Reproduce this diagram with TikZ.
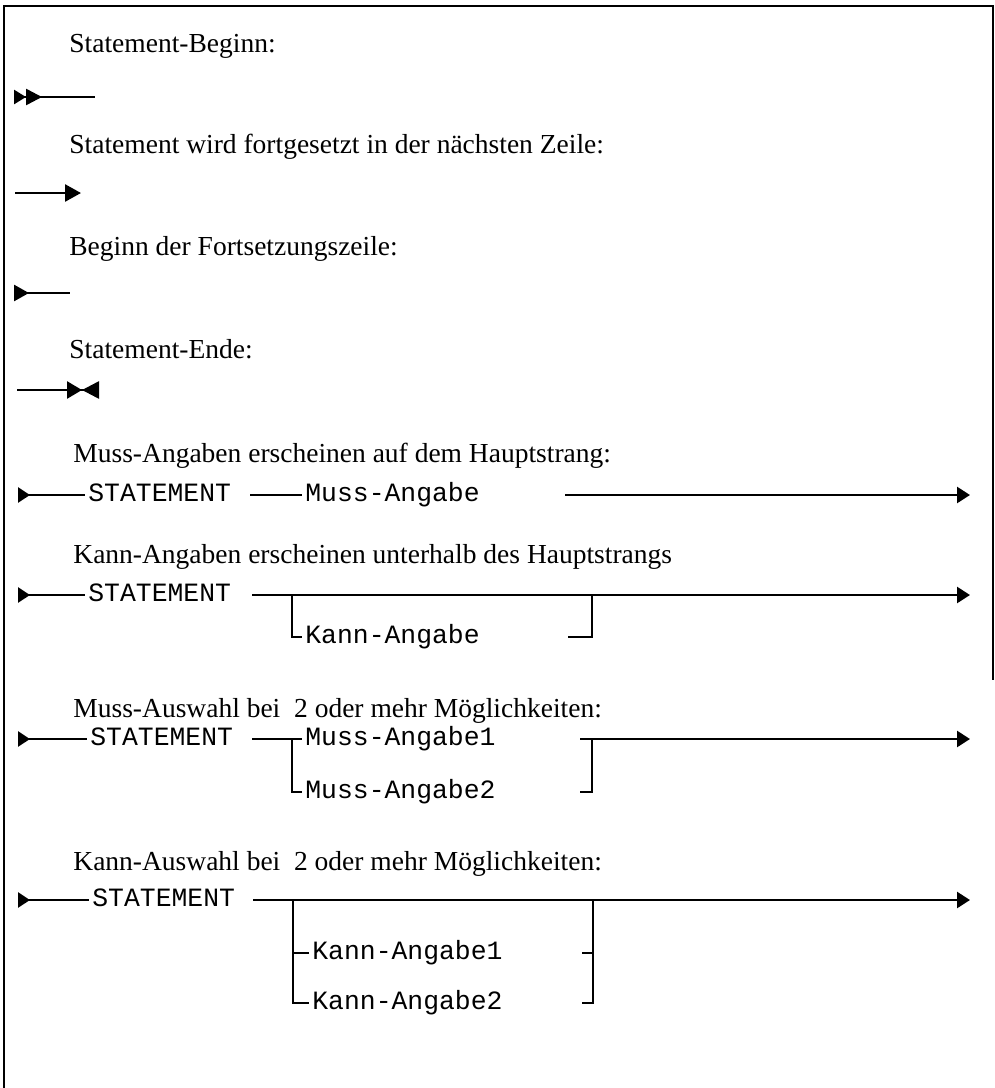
\documentclass[tikz,border=0pt]{standalone}
\usepackage{fontspec}
\setmainfont{Liberation Serif}
\setmonofont{Liberation Mono}
\usetikzlibrary{arrows.meta}

\begin{document}
\begin{tikzpicture}[x=0.5pt, y=-0.5pt,
    txt/.style={anchor=base west, inner sep=0pt, font=\fontsize{13.75}{16}\selectfont},
    opt/.style={anchor=west, inner xsep=1.5pt, inner ysep=0pt, text height=7.5pt, text depth=1.5pt, font=\fontsize{13.2}{15}\selectfont\ttfamily},
    rail/.style={line width=1.3pt},
    railgo/.style={rail, -{Triangle[length=6.5pt,width=8pt]}},
    railstart/.style={rail, {Triangle[reversed,length=6pt,width=7.5pt]}-}]
    \useasboundingbox (0,0) rectangle (995,1088);

    % Frame
    \draw[line width=1.4pt] (4,1088) -- (4,6) -- (993,6) -- (993,680);

    % Statement start
    \node[txt] (t1) at (69,52) {Statement-Beginn:};
    \coordinate (s1a) at (15,97);
    \coordinate (s1b) at (95,97);
    \draw[rail, {Triangle[reversed,length=6pt,width=7pt,sep=-0.5pt] Triangle[reversed,length=8pt,width=8pt]}-] (s1a) -- (s1b);

    % Continued in next line
    \node[txt] (t2) at (69,153) {Statement wird fortgesetzt in der nächsten Zeile:};
    \coordinate (s2a) at (15,193);
    \coordinate (s2b) at (81,193);
    \draw[rail, -{Triangle[length=8pt,width=8.5pt]}] (s2a) -- (s2b);

    % Continuation line start
    \node[txt] (t3) at (69,255) {Beginn der Fortsetzungszeile:};
    \coordinate (s3a) at (14,293);
    \coordinate (s3b) at (70,293);
    \draw[rail, {Triangle[reversed,length=7.5pt,width=8pt]}-] (s3a) -- (s3b);

    % Statement end
    \node[txt] (t4) at (69,358) {Statement-Ende:};
    \coordinate (s4a) at (17,390);
    \coordinate (s4b) at (99,390);
    \draw[rail, -{Triangle[length=7.5pt,width=8.5pt,sep=0pt] Triangle[reversed,length=8.5pt,width=8.5pt]}] (s4a) -- (s4b);

    % Row 1: Muss-Angabe
    \node[txt] (t5) at (73,462) {Muss-Angaben erscheinen auf dem Hauptstrang:};
    \coordinate (r1s) at (18,495);
    \node[opt] (st1) at (85,495) {STATEMENT};
    \coordinate (r1a) at (250,495);
    \node[opt] (mu1) at (302,495) {Muss-Angabe};
    \coordinate (r1b) at (565,495);
    \coordinate (r1e) at (970,495);
    \draw[railstart] (r1s) -- (st1);
    \draw[rail] (r1a) -- (mu1);
    \draw[railgo] (r1b) -- (r1e);

    % Row 2: Kann-Angabe
    \node[txt] (t6) at (73,563) {Kann-Angaben erscheinen unterhalb des Hauptstrangs};
    \coordinate (r2s) at (18,595);
    \node[opt] (st2) at (85,595) {STATEMENT};
    \coordinate (r2a) at (252,595);
    \coordinate (r2e) at (970,595);
    \node[opt] (ka) at (302,637) {Kann-Angabe};
    \coordinate (r2l) at (292,595);
    \coordinate (r2r) at (592,595);
    \coordinate (r2f) at (568,637);
    \draw[railstart] (r2s) -- (st2);
    \draw[railgo] (r2a) -- (r2e);
    \draw[rail] (r2l) |- (ka);
    \draw[rail] (r2f) -| (r2r);

    % Row 3: Muss-Auswahl
    \node[txt] (t7) at (73,717) {Muss-Auswahl bei\ \ 2 oder mehr Möglichkeiten:};
    \coordinate (r3s) at (18,739);
    \node[opt] (st3) at (87,739) {STATEMENT};
    \coordinate (r3a) at (252,739);
    \coordinate (r3l) at (292,739);
    \node[opt] (ma1) at (302,739) {Muss-Angabe1};
    \node[opt] (ma2) at (302,792) {Muss-Angabe2};
    \coordinate (r3b) at (580,739);
    \coordinate (r3r) at (592,739);
    \coordinate (r3f) at (580,792);
    \coordinate (r3e) at (970,739);
    \draw[railstart] (r3s) -- (st3);
    \draw[rail] (r3a) -- (ma1);
    \draw[rail] (r3l) |- (ma2);
    \draw[railgo] (r3b) -- (r3e);
    \draw[rail] (r3f) -| (r3r);

    % Row 4: Kann-Auswahl
    \node[txt] (t8) at (73,870) {Kann-Auswahl bei\ \ 2 oder mehr Möglichkeiten:};
    \coordinate (r4s) at (18,900);
    \node[opt] (st4) at (89,900) {STATEMENT};
    \coordinate (r4a) at (253,900);
    \coordinate (r4l) at (293,900);
    \node[opt] (kb1) at (309,953) {Kann-Angabe1};
    \node[opt] (kb2) at (309,1003) {Kann-Angabe2};
    \coordinate (r4r) at (593,900);
    \coordinate (r4m) at (582,953);
    \coordinate (r4f) at (582,1003);
    \coordinate (r4e) at (970,900);
    \draw[railstart] (r4s) -- (st4);
    \draw[railgo] (r4a) -- (r4e);
    \draw[rail] (r4l) |- (kb2);
    \draw[rail] (kb1) -- (kb1 -| r4l);
    \draw[rail] (r4m) -- (r4m -| r4r);
    \draw[rail] (r4f) -| (r4r);

\end{tikzpicture}
\end{document}
